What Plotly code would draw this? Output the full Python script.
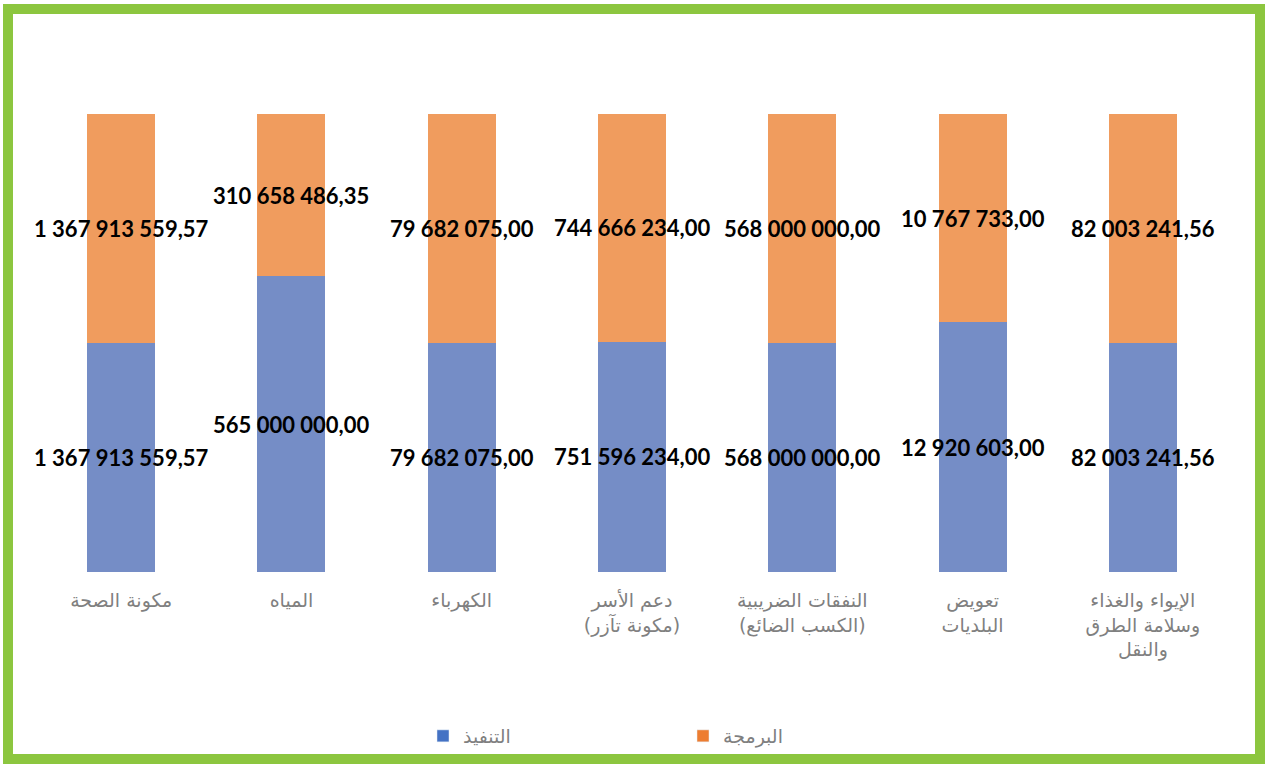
import plotly.graph_objects as go

categories = [
    "مكونة الصحة",
    "المياه",
    "الكهرباء",
    "دعم الأسر<br>(مكونة تآزر)",
    "النفقات الضريبية<br>(الكسب الضائع)",
    "تعويض<br>البلديات",
    "الإيواء والغذاء<br>وسلامة الطرق<br>والنقل",
]
execution = [1367913559.57, 565000000.00, 79682075.00, 751596234.00, 568000000.00, 12920603.00, 82003241.56]
programming = [1367913559.57, 310658486.35, 79682075.00, 744666234.00, 568000000.00, 10767733.00, 82003241.56]
series_names = ["التنفيذ", "البرمجة"]

bar_colors = ["#758DC6", "#F09C5E"]
legend_colors = ["#4472C4", "#ED7D31"]


def fmt(v):
    return f"{v:,.2f}".replace(",", " ").replace(".", ",")


W, H = 1265, 764
ML, MR, MT, MB = 36, 37, 114, 192

totals = [a + b for a, b in zip(execution, programming)]
exec_pct = [100 * a / t for a, t in zip(execution, totals)]
prog_pct = [100 * b / t for b, t in zip(programming, totals)]
exec_mid = [p / 2 for p in exec_pct]
prog_mid = [e + p / 2 for e, p in zip(exec_pct, prog_pct)]

label_font = dict(family="Lato, DejaVu Sans, sans-serif", size=22, color="#000000", weight="bold")

fig = go.Figure()
for name, vals, col in zip(series_names, [exec_pct, prog_pct], bar_colors):
    fig.add_trace(go.Bar(
        x=categories, y=vals, name=name, showlegend=False,
        marker=dict(color=col, line=dict(width=0)),
        hoverinfo="skip",
    ))
for name, col in zip(series_names, legend_colors):
    fig.add_trace(go.Bar(
        x=[None], y=[None], name=name, showlegend=True,
        marker=dict(color=col),
    ))

annotations = []
for vals, mids in zip([execution, programming], [exec_mid, prog_mid]):
    for cat, v, m in zip(categories, vals, mids):
        annotations.append(dict(
            x=cat, y=m, xref="x", yref="y", text=fmt(v), showarrow=False,
            xanchor="center", yanchor="middle", yshift=0,
            font=label_font,
        ))

# hand-drawn style green frame (pixel -> paper conversion)
pw = W - ML - MR
ph = H - MT - MB


def px(x):
    return (x - ML) / pw


def py(y):
    return (H - MB - y) / ph


green = "#8CC63F"
shapes = [
    dict(type="rect", xref="paper", yref="paper",
         x0=px(8), x1=px(1260), y0=py(9), y1=py(759),
         line=dict(color=green, width=10), fillcolor="rgba(0,0,0,0)", layer="above"),
]

fig.update_layout(
    width=W, height=H,
    margin=dict(l=ML, r=MR, t=MT, b=MB, autoexpand=False),
    paper_bgcolor="white", plot_bgcolor="white",
    barmode="stack", bargap=0.6,
    showlegend=True,
    legend=dict(orientation="h", x=px(423), xanchor="left", y=py(736), yanchor="middle",
                traceorder="normal", bgcolor="rgba(0,0,0,0)",
                entrywidth=215, entrywidthmode="pixels",
                font=dict(family="DejaVu Sans, sans-serif", size=19, color="#7F7F7F")),
    xaxis=dict(showgrid=False, showline=False, ticks="", zeroline=False, automargin=False,
               range=[-0.5, len(categories) - 0.5],
               tickfont=dict(family="DejaVu Sans, sans-serif", size=19, color="#808080"),
               ticklabelstandoff=15),
    yaxis=dict(range=[0, 100], visible=False, showgrid=False, zeroline=False, automargin=False),
    shapes=shapes,
    annotations=annotations,
)

fig.write_html("out.html")
